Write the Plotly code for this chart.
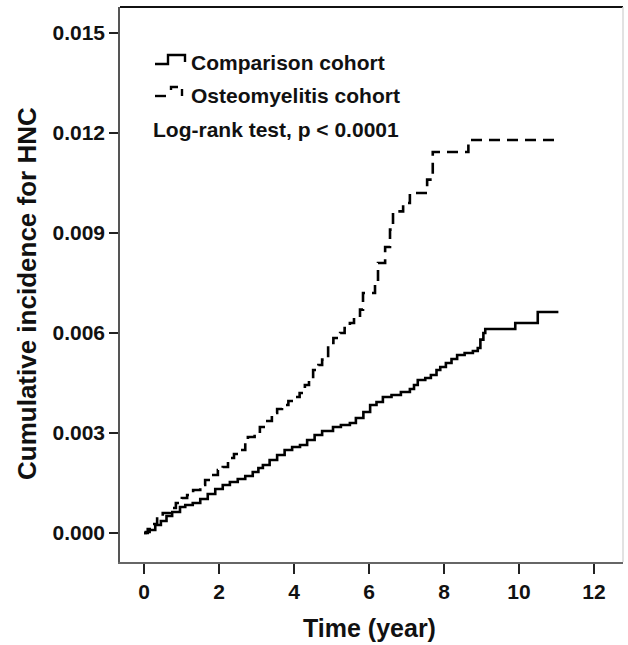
import plotly.graph_objects as go

# ---------------- data ----------------
comparison_time = [0.00, 0.05, 0.15, 0.30, 0.45, 0.60, 0.75, 0.96, 1.10, 1.30, 1.50, 1.70,
                   1.90, 2.10, 2.29, 2.50, 2.70, 2.90, 3.05, 3.17, 3.35, 3.55, 3.75, 3.95,
                   4.16, 4.35, 4.55, 4.75, 5.04, 5.25, 5.49, 5.65, 5.85, 6.03, 6.20, 6.37,
                   6.60, 6.85, 7.09, 7.20, 7.30, 7.50, 7.65, 7.80, 7.90, 8.05, 8.20, 8.35,
                   8.55, 8.77, 8.90, 8.97, 9.05, 9.10, 9.90, 10.50, 11.05]
comparison_inc = [0.00000, 0.00003, 0.00009, 0.00024, 0.00036, 0.00051, 0.00063, 0.00078,
                  0.00084, 0.00090, 0.00102, 0.00117, 0.00132, 0.00144, 0.00153, 0.00162,
                  0.00171, 0.00183, 0.00195, 0.00204, 0.00219, 0.00234, 0.00249, 0.00258,
                  0.00264, 0.00279, 0.00294, 0.00306, 0.00318, 0.00324, 0.00330, 0.00345,
                  0.00363, 0.00384, 0.00393, 0.00408, 0.00414, 0.00423, 0.00432, 0.00444,
                  0.00459, 0.00465, 0.00474, 0.00489, 0.00498, 0.00510, 0.00522, 0.00534,
                  0.00540, 0.00546, 0.00555, 0.00580, 0.00600, 0.00612, 0.00630, 0.00663,
                  0.00663]

osteo_time = [0.00, 0.10, 0.20, 0.35, 0.50, 0.69, 0.85, 1.01, 1.15, 1.31, 1.50, 1.63, 1.80,
              1.97, 2.10, 2.24, 2.40, 2.56, 2.70, 2.77, 2.95, 3.09, 3.25, 3.41, 3.55, 3.68,
              3.85, 4.03, 4.15, 4.29, 4.40, 4.51, 4.65, 4.75, 4.91, 5.05, 5.23, 5.35, 5.49,
              5.60, 5.76, 5.84, 6.16, 6.24, 6.43, 6.56, 6.64, 6.91, 7.09, 7.55, 7.70, 8.65,
              11.05]
osteo_inc = [0.00000, 0.00012, 0.00027, 0.00048, 0.00060, 0.00075, 0.00090, 0.00105, 0.00114,
             0.00129, 0.00144, 0.00159, 0.00174, 0.00189, 0.00198, 0.00225, 0.00237, 0.00249,
             0.00270, 0.00288, 0.00300, 0.00318, 0.00336, 0.00360, 0.00372, 0.00384, 0.00396,
             0.00408, 0.00420, 0.00444, 0.00462, 0.00489, 0.00504, 0.00520, 0.00570, 0.00585,
             0.00600, 0.00615, 0.00630, 0.00645, 0.00670, 0.00720, 0.00750, 0.00810, 0.00858,
             0.00910, 0.00965, 0.00990, 0.01020, 0.01060, 0.01143, 0.01179, 0.01179]

x_ticks = [0, 2, 4, 6, 8, 10, 12]
x_tick_labels = ["0", "2", "4", "6", "8", "10", "12"]
y_ticks = [0.000, 0.003, 0.006, 0.009, 0.012, 0.015]
y_tick_labels = ["0.000", "0.003", "0.006", "0.009", "0.012", "0.015"]

series_names = ["Comparison cohort", "Osteomyelitis cohort"]
x_title = "Time (year)"
y_title = "Cumulative incidence for HNC"
test_text = "Log-rank test, p < 0.0001"

# ---------------- layout geometry ----------------
W, H = 628, 645
L, R, T, B = 120, 5, 7, 83
PW, PH = W - L - R, H - T - B
FONT = "Arial, Liberation Sans, Helvetica, sans-serif"


def px(xp):
    return (xp - L) / PW


def py(yp):
    return (T + PH - yp) / PH


fig = go.Figure()
fig.add_trace(go.Scatter(x=comparison_time, y=comparison_inc, mode="lines",
                         line=dict(shape="hv", color="#000000", width=2.6),
                         name=series_names[0], showlegend=False))
fig.add_trace(go.Scatter(x=osteo_time, y=osteo_inc, mode="lines",
                         line=dict(shape="hv", color="#000000", width=2.6, dash="11px,7px"),
                         name=series_names[1], showlegend=False))

shapes = []
# frame: top (dark) and right (light)
shapes.append(dict(type="line", xref="paper", yref="paper", x0=0, x1=1, y0=1, y1=1,
                   line=dict(color="#111111", width=2)))
shapes.append(dict(type="line", xref="paper", yref="paper", x0=1, x1=1, y0=0, y1=1,
                   line=dict(color="#d8d8d8", width=1.5)))
# legend icon: solid step
shapes.append(dict(type="path", xref="paper", yref="paper",
                   path=f"M {px(155)} {py(64)} L {px(168)} {py(64)} L {px(168)} {py(55)} "
                        f"L {px(185)} {py(55)} L {px(185)} {py(62)}",
                   line=dict(color="#000000", width=2.4)))
# legend icon: dashed step (drawn as dash pieces)
shapes.append(dict(type="line", xref="paper", yref="paper", x0=px(155), x1=px(166),
                   y0=py(96), y1=py(96), line=dict(color="#000000", width=2.4)))
shapes.append(dict(type="path", xref="paper", yref="paper",
                   path=f"M {px(171)} {py(90)} L {px(171)} {py(87)} L {px(178)} {py(87)}",
                   line=dict(color="#000000", width=2.4)))
shapes.append(dict(type="line", xref="paper", yref="paper", x0=px(182), x1=px(182),
                   y0=py(89), y1=py(96), line=dict(color="#000000", width=2.4)))

annotations = [
    dict(text=series_names[0], x=px(189), y=py(63), xref="paper", yref="paper",
         xanchor="left", yanchor="middle", showarrow=False,
         font=dict(family=FONT, size=21, color="#111111", weight="bold")),
    dict(text=series_names[1], x=px(189), y=py(95), xref="paper", yref="paper",
         xanchor="left", yanchor="middle", showarrow=False,
         font=dict(family=FONT, size=21, color="#111111", weight="bold")),
    dict(text=test_text, x=px(151), y=py(130), xref="paper", yref="paper",
         xanchor="left", yanchor="middle", showarrow=False,
         font=dict(family=FONT, size=21, color="#111111", weight="bold")),
    dict(text=x_title, x=px(369), y=py(628), xref="paper", yref="paper",
         xanchor="center", yanchor="middle", showarrow=False,
         font=dict(family=FONT, size=25, color="#111111", weight="bold")),
    dict(text=y_title, x=px(27), y=py(294), xref="paper", yref="paper",
         xanchor="center", yanchor="middle", showarrow=False, textangle=-90,
         font=dict(family=FONT, size=26, color="#111111", weight="bold")),
]

fig.update_layout(
    width=W, height=H,
    margin=dict(l=L, r=R, t=T, b=B, pad=0),
    paper_bgcolor="white", plot_bgcolor="white",
    shapes=shapes, annotations=annotations,
    showlegend=False,
    xaxis=dict(range=[-0.64, 12.773], tickmode="array", tickvals=x_ticks,
               ticktext=x_tick_labels, ticks="outside", ticklen=10, tickwidth=2,
               tickcolor="#222222", showgrid=False, zeroline=False,
               showline=True, linecolor="#666666", linewidth=1.5,
               tickfont=dict(family=FONT, size=21, color="#111111", weight="bold")),
    yaxis=dict(range=[-0.00087, 0.01578], tickmode="array", tickvals=y_ticks,
               ticktext=y_tick_labels, ticks="outside", ticklen=9, tickwidth=2,
               tickcolor="#222222", showgrid=False, zeroline=False,
               showline=True, linecolor="#555555", linewidth=1.5,
               tickfont=dict(family=FONT, size=21, color="#111111", weight="bold")),
)

fig.write_html(
    "out.html",
    config={"displayModeBar": False},
    post_script="document.body.style.margin='0';document.body.style.overflow='hidden';"
                "document.documentElement.style.overflow='hidden';",
)
